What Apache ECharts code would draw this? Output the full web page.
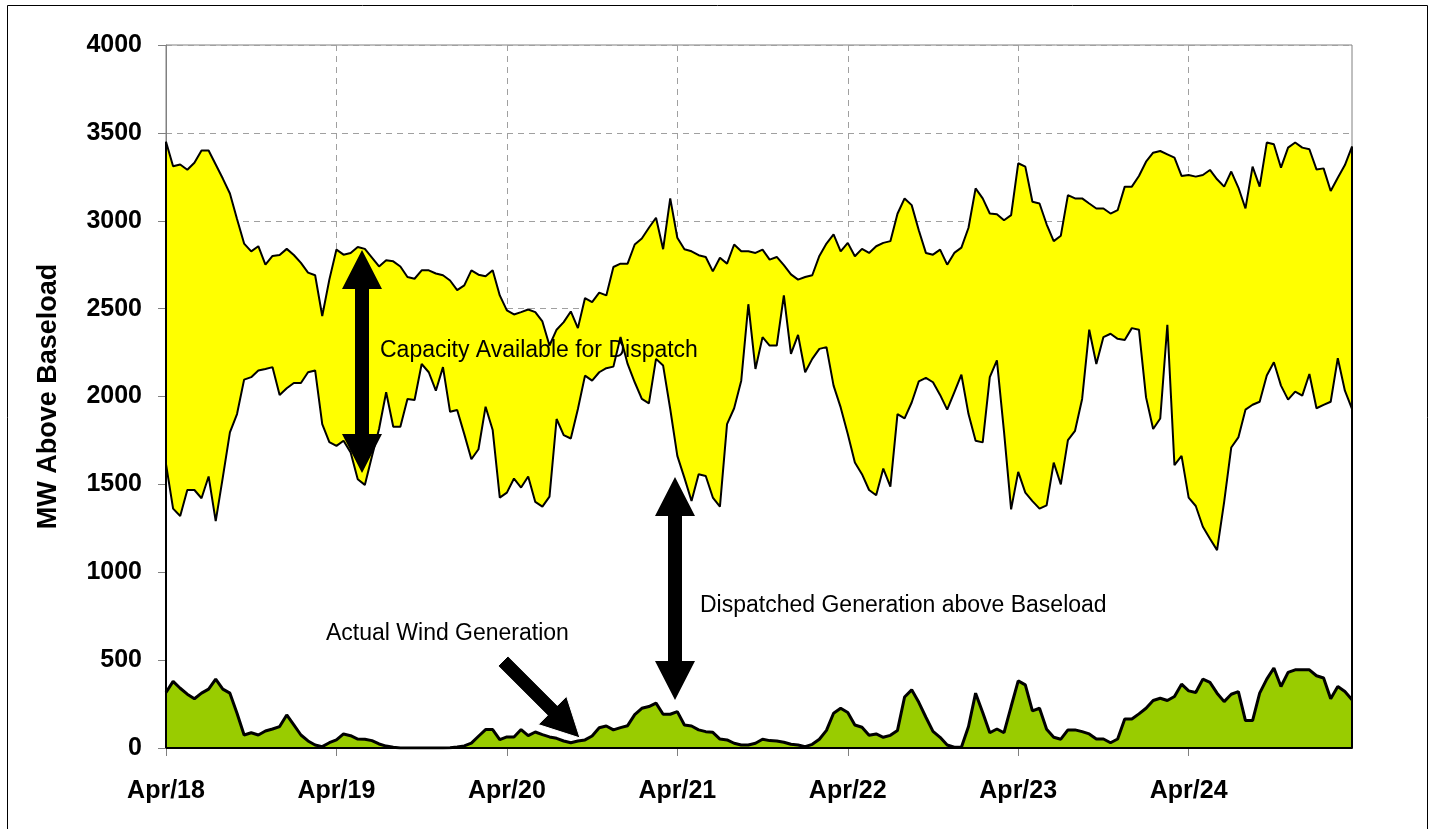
<!DOCTYPE html>
<html>
<head>
<meta charset="utf-8">
<script src="https://cdn.jsdelivr.net/npm/echarts@6/dist/echarts.min.js"></script>
<style>
  html, body { margin: 0; padding: 0; background: #fff; }
  #chart { width: 1432px; height: 829px; }
</style>
</head>
<body>
<div id="chart"></div>
<script>
// hourly values, Apr/18 00:00 onwards
var dayLabels = ['Apr/18', 'Apr/19', 'Apr/20', 'Apr/21', 'Apr/22', 'Apr/23', 'Apr/24'];
var yTicks = [0, 500, 1000, 1500, 2000, 2500, 3000, 3500, 4000];

// top of the yellow band (dispatched + available capacity)
var capacityTop = [
  3450, 3310, 3320, 3290, 3330, 3400, 3400, 3320, 3240, 3155, 3010, 2870, 2826, 2855, 2750, 2800,
  2805, 2840, 2805, 2760, 2705, 2690, 2458, 2665, 2836, 2807, 2817, 2851, 2840, 2790, 2740, 2775,
  2769, 2740, 2680, 2670, 2718, 2718, 2700, 2690, 2660, 2605, 2632, 2718, 2693, 2684, 2718, 2575,
  2490, 2467, 2480, 2495, 2480, 2427, 2290, 2380, 2423, 2484, 2389, 2560, 2537, 2591, 2575, 2737,
  2756, 2756, 2865, 2899, 2960, 3017, 2838, 3127, 2903, 2838, 2826, 2804, 2794, 2712, 2789, 2756,
  2865, 2826, 2826, 2817, 2836, 2779, 2794, 2747, 2695, 2665, 2680, 2690, 2800, 2870, 2922, 2826,
  2874, 2798, 2840, 2817, 2855, 2874, 2884, 3040, 3127, 3089, 2946, 2817, 2807, 2836, 2750, 2817,
  2847, 2960, 3184, 3127, 3041, 3037, 3003, 3032, 3327, 3308, 3108, 3098, 2980, 2884, 2915, 3146,
  3127, 3127, 3098, 3070, 3070, 3041, 3060, 3194, 3194, 3255, 3336, 3387, 3397, 3378, 3359, 3255,
  3260, 3251, 3260, 3289, 3236, 3194, 3280, 3189, 3070, 3308, 3194, 3445, 3435, 3302, 3416, 3445,
  3416, 3407, 3292, 3298, 3169, 3245, 3317, 3422
];

// dispatched generation above baseload (bottom of the yellow band)
var dispatched = [
  1615, 1362, 1320, 1468, 1468, 1421, 1545, 1291, 1540, 1796, 1900, 2096, 2110, 2148, 2157, 2167,
  2009, 2047, 2077, 2077, 2138, 2148, 1843, 1740, 1719, 1748, 1682, 1529, 1497, 1660, 1815, 2024,
  1828, 1828, 1986, 1980, 2185, 2138, 2033, 2167, 1913, 1923, 1786, 1643, 1700, 1942, 1809, 1425,
  1453, 1533, 1482, 1545, 1400, 1373, 1430, 1872, 1780, 1761, 1929, 2119, 2090, 2138, 2161, 2170,
  2338, 2185, 2081, 1986, 1961, 2214, 2176, 1929, 1662, 1537, 1405, 1558, 1548, 1425, 1373, 1843,
  1933, 2090, 2525, 2157, 2338, 2290, 2290, 2575, 2243, 2351, 2138, 2214, 2271, 2281, 2062, 1938,
  1786, 1624, 1558, 1468, 1438, 1590, 1487, 1900, 1875, 1966, 2086, 2106, 2081, 2009, 1925, 2024,
  2124, 1900, 1748, 1739, 2110, 2205, 1800, 1358, 1571, 1453, 1405, 1362, 1381, 1624, 1500, 1752,
  1805, 1986, 2380, 2185, 2338, 2357, 2328, 2322, 2389, 2380, 1995, 1815, 1875, 2408, 1609, 1662,
  1425, 1377, 1259, 1191, 1126, 1400, 1710, 1767, 1925, 1953, 1970, 2119, 2195, 2062, 1982, 2028,
  2005, 2128, 1933, 1952, 1970, 2218, 2033, 1929
];

// actual wind generation
var wind = [
  316, 379, 340, 306, 280, 312, 335, 392, 335, 312, 198, 74, 87, 74, 97, 108,
  122, 188, 131, 74, 40, 17, 8, 30, 46, 80, 70, 51, 50, 42, 23, 11,
  4, 0, 0, 0, 0, 0, 0, 0, 2, 6, 12, 28, 67, 105, 105, 48,
  63, 63, 105, 70, 91, 76, 63, 55, 40, 30, 40, 46, 68, 115, 125, 103,
  116, 127, 190, 226, 236, 255, 192, 192, 207, 131, 125, 103, 93, 89, 51, 46,
  27, 17, 17, 27, 50, 42, 40, 33, 21, 17, 8, 21, 50, 100, 198, 226,
  202, 131, 118, 72, 80, 61, 72, 100, 290, 331, 260, 175, 95, 61, 17, 4,
  4, 122, 312, 202, 87, 108, 87, 236, 382, 359, 211, 226, 107, 61, 50, 103,
  103, 93, 80, 51, 51, 30, 51, 165, 165, 194, 226, 270, 283, 270, 293, 363,
  325, 316, 392, 373, 312, 264, 306, 321, 156, 156, 312, 392, 455, 350, 430, 445,
  445, 445, 411, 398, 280, 350, 321, 274
];

var lastHour = capacityTop.length - 1;
var dayTicks = dayLabels.map(function (d, i) { return i * 24; });

function pairs(arr) {
  return arr.map(function (v, i) { return [i, v]; });
}

var FONT = '"Liberation Sans", Arial, sans-serif';

// block arrow outline, tip at (x2,y2), second tip at (x1,y1) when twoHeads
function arrowPoints(x1, y1, x2, y2, twoHeads) {
  var dx = x2 - x1, dy = y2 - y1, L = Math.sqrt(dx * dx + dy * dy);
  var ux = dx / L, uy = dy / L, nx = -uy, ny = ux;
  var hl = 39, hw = 20, sw = 7;
  function P(t, s) { return [x1 + ux * t + nx * s, y1 + uy * t + ny * s]; }
  if (twoHeads) {
    return [P(0, 0), P(hl, hw), P(hl, sw), P(L - hl, sw), P(L - hl, hw), P(L, 0),
            P(L - hl, -hw), P(L - hl, -sw), P(hl, -sw), P(hl, -hw)];
  }
  return [P(0, sw), P(L - hl, sw), P(L - hl, hw), P(L, 0), P(L - hl, -hw), P(L - hl, -sw), P(0, -sw)];
}

var chart = echarts.init(document.getElementById('chart'));

chart.setOption({
  animation: false,
  backgroundColor: '#fff',
  grid: {
    left: 166, right: 80, top: 45, bottom: 81,
    show: true, borderColor: '#808080', borderWidth: 1
  },
  xAxis: {
    type: 'value',
    min: 0, max: lastHour, interval: 24,
    axisLine: { show: true, lineStyle: { color: '#000', width: 2 } },
    axisTick: { show: true, inside: false, length: 8, customValues: dayTicks, lineStyle: { color: '#808080' } },
    axisLabel: {
      customValues: dayTicks,
      margin: 31,
      fontSize: 25, fontWeight: 'bold', fontFamily: FONT, color: '#000',
      formatter: function (v) { return v % 24 === 0 ? dayLabels[v / 24] : ''; }
    },
    splitLine: { show: true, lineStyle: { color: '#a0a0a0', type: [6, 5], width: 1 } }
  },
  yAxis: {
    type: 'value',
    min: yTicks[0], max: yTicks[yTicks.length - 1], interval: 500,
    name: 'MW Above Baseload',
    nameLocation: 'middle',
    nameRotate: 90,
    nameGap: 104,
    nameTextStyle: { fontSize: 27, fontWeight: 'bold', fontFamily: FONT, color: '#000' },
    axisLine: { show: true, lineStyle: { color: '#808080', width: 1 } },
    axisTick: { show: true, inside: false, length: 8, lineStyle: { color: '#808080' } },
    axisLabel: {
      margin: 24, fontSize: 25, fontWeight: 'bold', fontFamily: FONT, color: '#000',
      formatter: function (v) { return String(v); }
    },
    splitLine: { show: true, lineStyle: { color: '#a0a0a0', type: [6, 5], width: 1 } }
  },
  series: [
    {
      name: 'Capacity Available for Dispatch',
      type: 'line',
      data: pairs(capacityTop),
      showSymbol: false,
      lineStyle: { color: '#000', width: 2 },
      areaStyle: { color: '#ffff00', opacity: 1 },
      markLine: {
        silent: true, symbol: 'none', label: { show: false },
        lineStyle: { color: '#000', width: 2, type: 'solid' },
        data: [
          [{ coord: [0, 0] }, { coord: [0, capacityTop[0]] }],
          [{ coord: [lastHour, 0] }, { coord: [lastHour, capacityTop[lastHour]] }]
        ]
      }
    },
    {
      name: 'Dispatched Generation above Baseload',
      type: 'line',
      data: pairs(dispatched),
      showSymbol: false,
      lineStyle: { color: '#000', width: 2 },
      areaStyle: { color: '#ffffff', opacity: 1 }
    },
    {
      name: 'Actual Wind Generation',
      type: 'line',
      data: pairs(wind),
      showSymbol: false,
      lineStyle: { color: '#000', width: 3 },
      areaStyle: { color: '#99cc00', opacity: 1 },
      markLine: {
        silent: true, symbol: 'none', label: { show: false },
        lineStyle: { color: '#000', width: 2, type: 'solid' },
        data: [
          [{ coord: [0, 0] }, { coord: [lastHour, 0] }],
          [{ coord: [0, 0] }, { coord: [0, dispatched[0]] }],
          [{ coord: [lastHour, 0] }, { coord: [lastHour, dispatched[lastHour]] }]
        ]
      }
    }
  ],
  graphic: [
    {
      type: 'rect', z: 100, silent: true,
      shape: { x: 7.5, y: 5.5, width: 1420, height: 900 },
      style: { fill: 'none', stroke: '#000', lineWidth: 1 }
    },
    {
      type: 'polygon', z: 100, silent: true,
      shape: { points: arrowPoints(362, 250, 362, 473, true) },
      style: { fill: '#000' }
    },
    {
      type: 'polygon', z: 100, silent: true,
      shape: { points: arrowPoints(675, 477, 675, 700, true) },
      style: { fill: '#000' }
    },
    {
      type: 'polygon', z: 100, silent: true,
      shape: { points: arrowPoints(503, 661, 580, 738, false) },
      style: { fill: '#000', stroke: '#fff', lineWidth: 1 }
    },
    {
      type: 'text', z: 101, silent: true, x: 380, y: 351,
      style: { text: 'Capacity Available for Dispatch', fontSize: 23, fontFamily: FONT, fill: '#000', verticalAlign: 'middle' }
    },
    {
      type: 'text', z: 101, silent: true, x: 700, y: 606,
      style: { text: 'Dispatched Generation above Baseload', fontSize: 23, fontFamily: FONT, fill: '#000', verticalAlign: 'middle' }
    },
    {
      type: 'text', z: 101, silent: true, x: 326, y: 634,
      style: { text: 'Actual Wind Generation', fontSize: 23, fontFamily: FONT, fill: '#000', verticalAlign: 'middle' }
    }
  ]
});
</script>
</body>
</html>
